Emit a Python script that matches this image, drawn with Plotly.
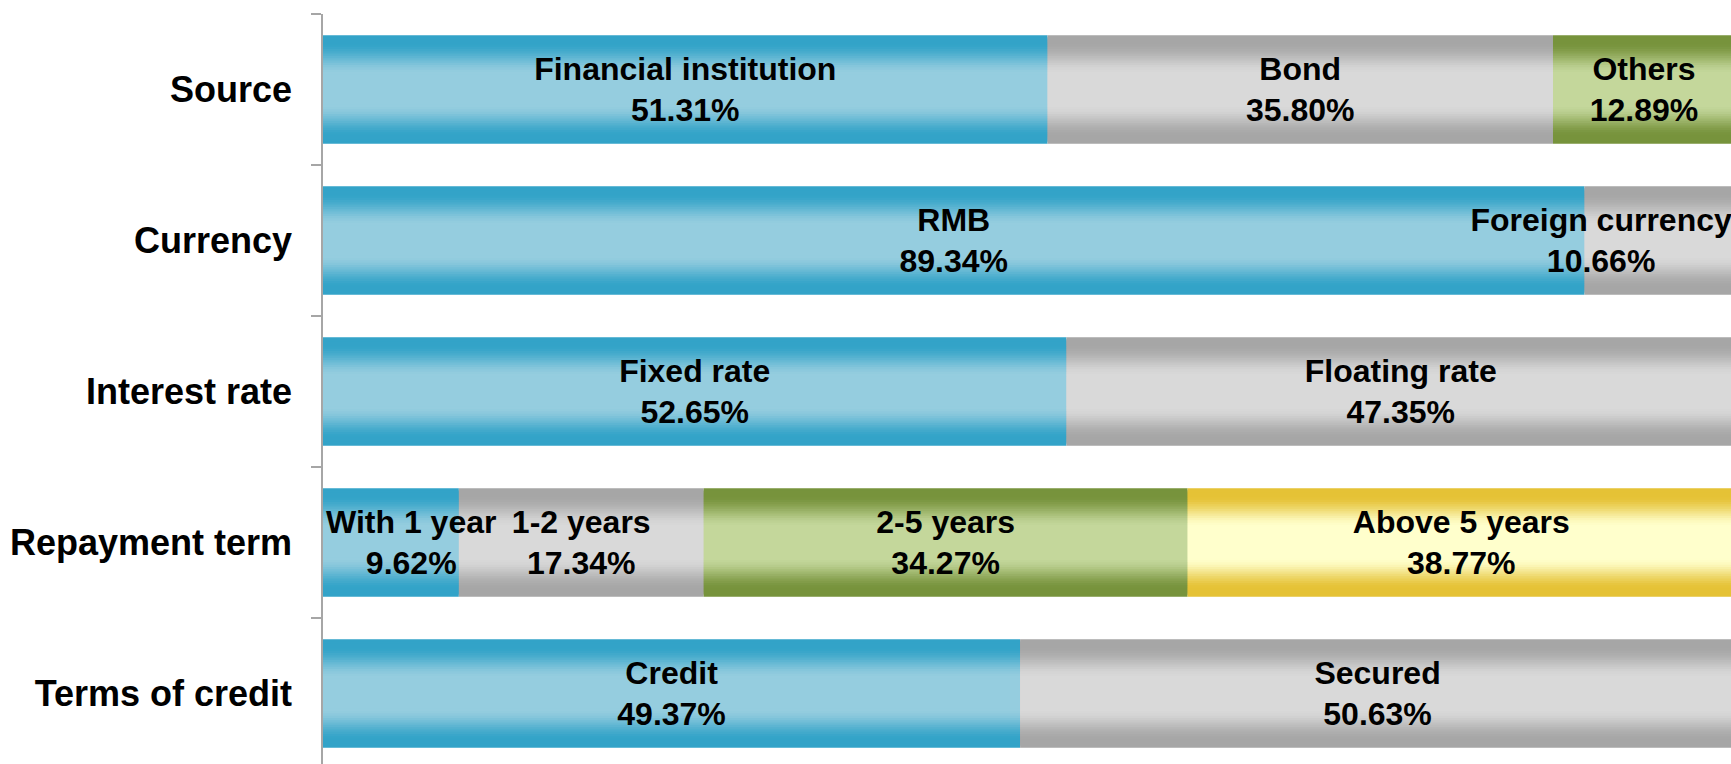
import plotly.graph_objects as go

# ---- data ----
rows = ["Source", "Currency", "Interest rate", "Repayment term", "Terms of credit"]
source_labels = ["Financial institution", "Bond", "Others"]
source_values = [51.31, 35.80, 12.89]
currency_labels = ["RMB", "Foreign currency"]
currency_values = [89.34, 10.66]
rate_labels = ["Fixed rate", "Floating rate"]
rate_values = [52.65, 47.35]
term_labels = ["With 1 year", "1-2 years", "2-5 years", "Above 5 years"]
term_values = [9.62, 17.34, 34.27, 38.77]
credit_labels = ["Credit", "Secured"]
credit_values = [49.37, 50.63]

segments = [
    (source_labels, source_values),
    (currency_labels, currency_values),
    (rate_labels, rate_values),
    (term_labels, term_values),
    (credit_labels, credit_values),
]

# ---- styles ----
# (edge colour, centre colour) per segment position
palette = [
    ((0x33, 0xA3, 0xC8), (0x95, 0xCD, 0xDF)),  # blue
    ((0xA6, 0xA6, 0xA6), (0xD9, 0xD9, 0xD9)),  # grey
    ((0x77, 0x93, 0x3C), (0xC4, 0xD7, 0x9B)),  # green
    ((0xE5, 0xC2, 0x36), (0xFF, 0xFF, 0xCC)),  # yellow
]
BAR_W = 0.72
FONT_SIZE = 32
PLOT_W_PX = 1408
X_MAX = 100 * 1408 / 1412

def mix(c1, c2, t):
    return "rgb(%d,%d,%d)" % tuple(round(a + (b - a) * t) for a, b in zip(c1, c2))

def profile(d):
    # 0 -> centre colour, 1 -> edge colour
    t = (d - 0.28) / (0.86 - 0.28)
    t = max(0.0, min(1.0, t))
    return t * t * (3 - 2 * t)

fig = go.Figure()

n_layers = 18
max_seg = max(len(v) for _, v in segments)
for k in range(n_layers):
    f_outer = 1 - k * (1 - 0.28) / (n_layers - 1)
    f_next = 1 - (k + 1) * (1 - 0.28) / (n_layers - 1)
    d_mid = (f_outer + f_next) / 2 if k < n_layers - 1 else 0.0
    t = profile(d_mid)
    for j in range(max_seg):
        ys, xs, bs = [], [], []
        for r, (labels, vals) in zip(rows, segments):
            if j < len(vals):
                ys.append(r)
                xs.append(vals[j])
                bs.append(sum(vals[:j]))
        light, dark = palette[j][1], palette[j][0]
        fig.add_trace(go.Bar(
            y=ys, x=xs, base=bs, orientation="h",
            width=BAR_W * f_outer,
            marker=dict(color=mix(light, dark, t), line=dict(width=0)),
            hoverinfo="skip", showlegend=False,
        ))

# ---- labels (transparent bars carrying the text) ----
for r, (labels, vals) in zip(rows, segments):
    for j, (lab, v) in enumerate(zip(labels, vals)):
        est_w = 0.56 * FONT_SIZE * len(lab)
        bar_px = v / X_MAX * PLOT_W_PX
        anchor = "middle"
        if est_w > bar_px:
            if j == 0:
                anchor = "start"
            elif j == len(vals) - 1:
                anchor = "end"
        fig.add_trace(go.Bar(
            y=[r], x=[v], base=[sum(vals[:j])], orientation="h",
            width=BAR_W,
            marker=dict(color="rgba(0,0,0,0)", line=dict(width=0)),
            text=["<b>%s<br>%.2f%%</b>" % (lab, v)],
            textposition="inside", insidetextanchor=anchor,
            textangle=0, constraintext="none",
            textfont=dict(family="Liberation Sans, Arial, sans-serif",
                          size=FONT_SIZE, color="black"),
            hoverinfo="skip", showlegend=False,
        ))

fig.update_layout(
    width=1731, height=764,
    margin=dict(l=323, r=0, t=14, b=0, autoexpand=False),
    barmode="overlay",
    plot_bgcolor="white", paper_bgcolor="white",
    xaxis=dict(visible=False, range=[0, X_MAX], fixedrange=True, automargin=False),
    yaxis=dict(
        type="category", categoryorder="array", categoryarray=rows,
        range=[-0.5 + 750 / 151, -0.5],
        automargin=False, fixedrange=True,
        tickson="boundaries", ticks="outside", ticklen=10,
        tickcolor="#A6A6A6", tickwidth=1.5,
        showline=True, linecolor="#A6A6A6", linewidth=1.5,
        showgrid=False, zeroline=False,
        ticklabelstandoff=22,
        tickfont=dict(family="Liberation Sans, Arial, sans-serif",
                      size=36, color="black", weight="bold"),
    ),
)

page_css = ("document.documentElement.style.overflow='hidden';"
            "document.body.style.margin='0';"
            "document.body.style.overflow='hidden';")
fig.write_html("out.html", post_script=page_css,
               config={"displayModeBar": False})
